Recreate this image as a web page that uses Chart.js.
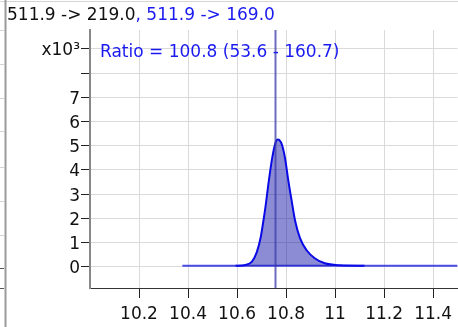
<!DOCTYPE html>
<html>
<head>
<meta charset="utf-8">
<script src="https://cdn.jsdelivr.net/npm/chart.js@4"></script>
<style>
  body { margin: 0; background: #fff; }
  #wrap { position: relative; width: 458px; height: 327px; font-family: "DejaVu Sans", sans-serif; font-size: 17px; }
  #head { position: absolute; left: 7px; top: 4px; color: #111; white-space: nowrap; }
  #head .b, #ratio { color: #1a1af0; }
  #ratio { position: absolute; left: 100px; top: 41px; white-space: nowrap; }
</style>
</head>
<body>
<div id="wrap">
  <canvas id="chart"></canvas>
  <div id="head"><span id="t1"></span><span class="b" id="t2"></span></div>
  <div id="ratio"></div>
</div>
<script>
// transitions and ratio shown in the header
const transitions = ['511.9 -> 219.0', '511.9 -> 169.0'];
const ratioValue = 100.8;
const ratioRange = [53.6, 160.7];

// axis ticks
const xTicks = [10.2, 10.4, 10.6, 10.8, 11.0, 11.2, 11.4];
const yTicks = [0, 1000, 2000, 3000, 4000, 5000, 6000, 7000, 8000, 9000];
const yTickLabels = ['0', '1', '2', '3', '4', '5', '6', '7', '', 'x10\u00b3'];

// peak trace (retention time, intensity)
const peakTime = [10.594, 10.634, 10.661, 10.681, 10.697, 10.708, 10.718, 10.728, 10.742, 10.753, 10.760, 10.766, 10.773, 10.783, 10.796, 10.809, 10.823, 10.837, 10.857, 10.884, 10.917, 10.958, 11.019, 11.12];
const peakIntensity = [40, 70, 207, 610, 1240, 1920, 2620, 3420, 4400, 4980, 5200, 5255, 5230, 5050, 4480, 3580, 2720, 1900, 1180, 680, 350, 140, 60, 40];

// baseline under the peak
const baselineTime = [10.377, 11.5];
const baselineIntensity = [40, 40];

// apex marker
const markerTime = 10.757;
const yMin = -880, yMax = 9780;

document.getElementById('t1').textContent = transitions[0];
document.getElementById('t2').textContent = ', ' + transitions[1];
document.getElementById('ratio').textContent =
  'Ratio = ' + ratioValue.toFixed(1) + ' (' + ratioRange[0].toFixed(1) + ' - ' + ratioRange[1].toFixed(1) + ')';

const pts = (xs, ys) => xs.map((x, i) => ({ x: x, y: ys[i] }));

// frame of the neighbouring panel on the left and the top rule
const sidePanel = {
  id: 'sidePanel',
  beforeDraw(chart) {
    const c = chart.ctx;
    c.save();
    c.strokeStyle = '#d4d4d4';
    c.lineWidth = 1;
    c.beginPath(); c.moveTo(0, 1.5); c.lineTo(chart.width, 1.5); c.stroke();
    [30, 64, 98, 131, 167, 201, 235].forEach(y => {
      c.beginPath(); c.moveTo(0, y + 0.5); c.lineTo(4, y + 0.5); c.stroke();
    });
    c.strokeStyle = '#555';
    [268, 288].forEach(y => {
      c.beginPath(); c.moveTo(0, y + 0.5); c.lineTo(4, y + 0.5); c.stroke();
    });
    c.strokeStyle = '#9a9a9a';
    c.lineWidth = 2;
    c.beginPath(); c.moveTo(5.5, 0); c.lineTo(5.5, chart.height); c.stroke();
    c.restore();
  }
};

Chart.defaults.font.family = '"DejaVu Sans", sans-serif';
Chart.defaults.font.size = 17;
Chart.defaults.color = '#111';

new Chart(document.getElementById('chart'), {
  type: 'line',
  data: {
    datasets: [
      {
        data: [{ x: markerTime, y: yMin }, { x: markerTime, y: yMax }],
        borderColor: 'rgba(60, 60, 170, 0.75)',
        borderWidth: 2,
        pointRadius: 0
      },
      {
        data: pts(peakTime, peakIntensity),
        borderColor: '#0a0ae6',
        borderWidth: 2,
        backgroundColor: 'rgba(0, 0, 160, 0.45)',
        fill: { value: 40 },
        cubicInterpolationMode: 'monotone',
        pointRadius: 0
      },
      {
        data: pts(baselineTime, baselineIntensity),
        borderColor: 'rgba(30, 30, 225, 0.8)',
        borderWidth: 2,
        pointRadius: 0
      }
    ]
  },
  options: {
    responsive: true,
    maintainAspectRatio: false,
    animation: false,
    layout: { padding: { top: 30, left: 0, right: 0, bottom: 0 } },
    plugins: { legend: { display: false }, tooltip: { enabled: false } },
    scales: {
      x: {
        type: 'linear',
        min: 10.0,
        max: 11.5,
        afterBuildTicks: s => { s.ticks = xTicks.map(v => ({ value: v })); },
        afterFit: s => { s.height = 39; },
        grid: { color: '#dadada', tickColor: '#222', tickLength: 10 },
        border: { color: '#333', width: 1 },
        ticks: {
          padding: 6,
          maxRotation: 0,
          autoSkip: false,
          callback: v => String(Number(v.toFixed(1)))
        }
      },
      y: {
        min: yMin,
        max: yMax,
        afterBuildTicks: s => { s.ticks = yTicks.map(v => ({ value: v })); },
        afterFit: s => { s.width = 90; },
        grid: { color: '#dadada', tickColor: '#222', tickLength: 9 },
        border: { color: '#888', width: 2 },
        ticks: {
          padding: 1,
          labelOffset: 2,
          autoSkip: false,
          callback: (v, i) => yTickLabels[i]
        }
      }
    }
  },
  plugins: [sidePanel]
});
</script>
</body>
</html>
